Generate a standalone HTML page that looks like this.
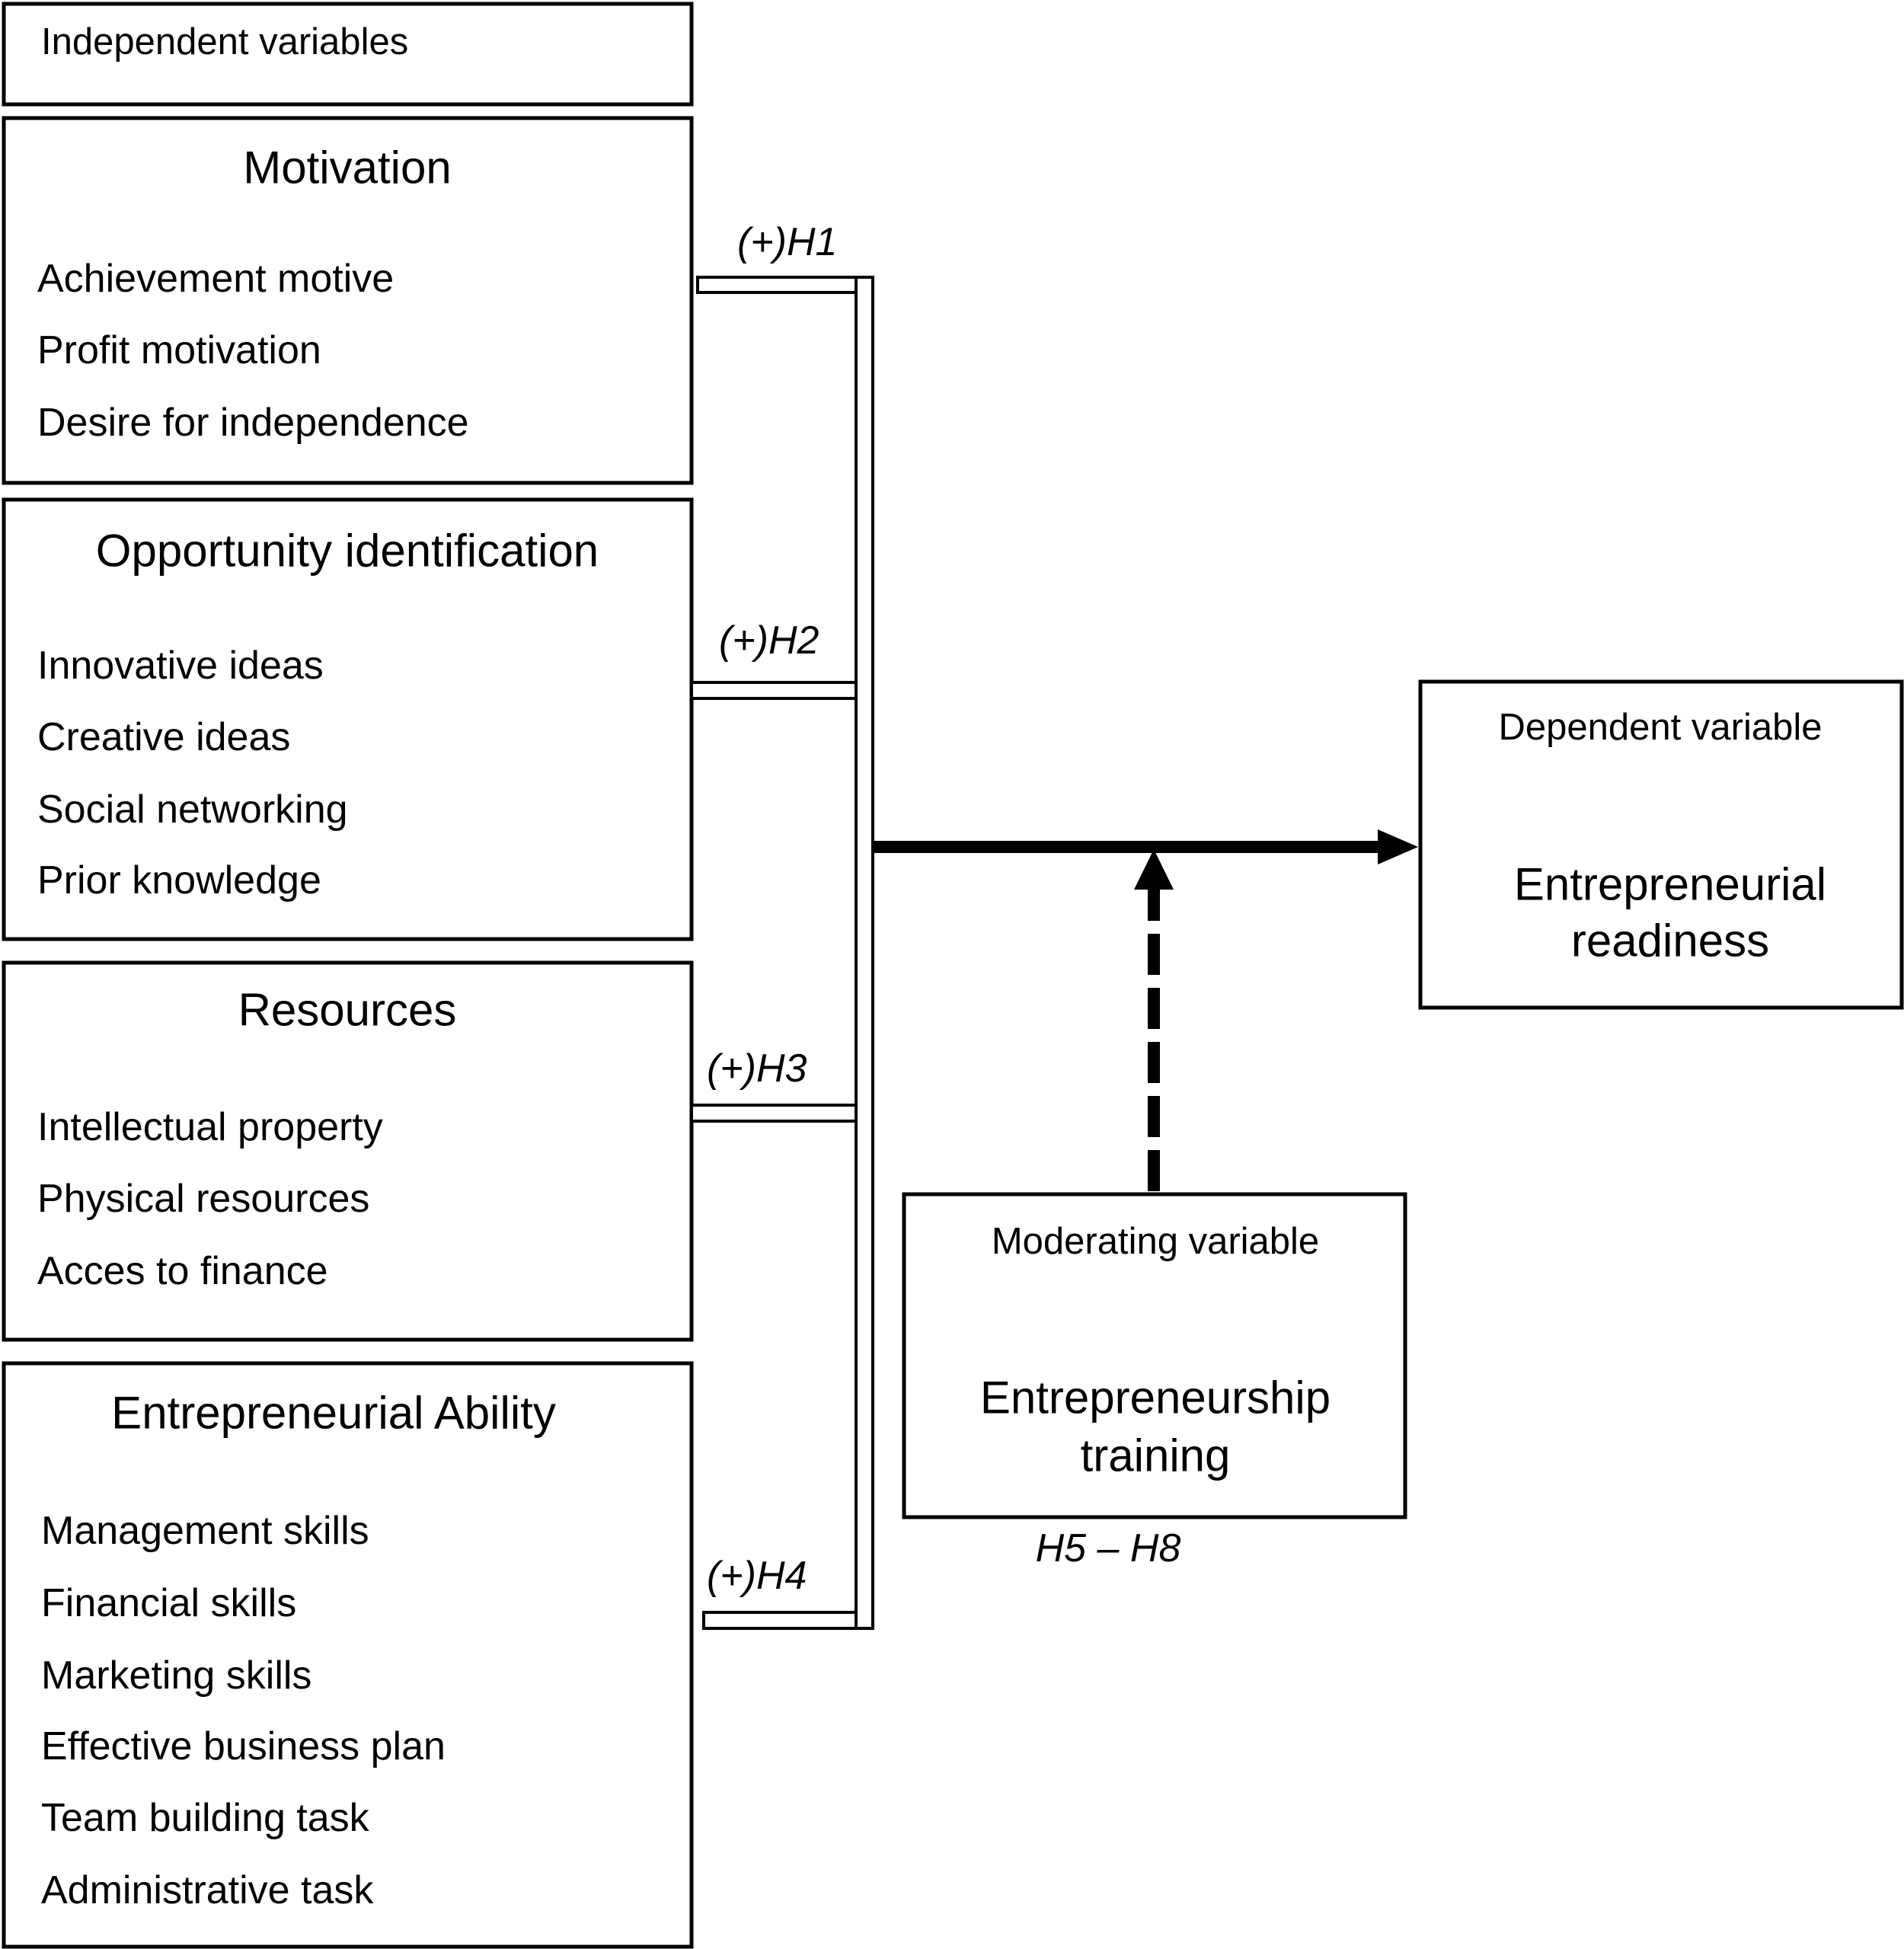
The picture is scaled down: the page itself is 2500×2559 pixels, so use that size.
<!DOCTYPE html>
<html><head><meta charset="utf-8"><style>
html,body{margin:0;padding:0;background:#fff;}
svg{display:block;}
text{font-family:"Liberation Sans",Arial,sans-serif;fill:#000;}
.t{font-size:49px;}
.h{font-size:60px;}
.i{font-size:52px;}
.l{font-size:52px;font-style:italic;}
</style></head><body>
<svg width="2500" height="2559" viewBox="0 0 2500 2559" xmlns="http://www.w3.org/2000/svg">
<g fill="none" stroke="#000" stroke-width="5">
<rect x="5" y="5" width="903" height="132"/>
<rect x="5" y="155" width="903" height="479"/>
<rect x="5" y="656" width="903" height="577"/>
<rect x="5" y="1264" width="903" height="495"/>
<rect x="5" y="1790" width="903" height="766"/>
<rect x="1865" y="895" width="632" height="428"/>
<rect x="1187" y="1568" width="658" height="424"/>
</g>
<g fill="#fff" stroke="#000" stroke-width="4">
<rect x="916" y="364" width="208" height="20"/>
<rect x="908" y="896" width="216" height="21"/>
<rect x="908" y="1451" width="216" height="21"/>
<rect x="924" y="2117" width="200" height="21"/>
<rect x="1124" y="364" width="22" height="1774"/>
</g>
<line x1="1148" y1="1112" x2="1815" y2="1112" stroke="#000" stroke-width="16"/>
<polygon points="1809,1089 1862,1112 1809,1135" fill="#000"/>
<line x1="1515" y1="1564" x2="1515" y2="1160" stroke="#000" stroke-width="16" stroke-dasharray="54 17"/>
<polygon points="1489,1168 1515,1115 1541,1168" fill="#000"/>
<text class="t" x="54" y="73" dominant-baseline="central" dy="-18">Independent variables</text>
<text class="h" x="456" y="220" text-anchor="middle" dominant-baseline="central">Motivation</text>
<text class="i" x="49" y="366" dominant-baseline="central">Achievement motive</text>
<text class="i" x="49" y="460" dominant-baseline="central">Profit motivation</text>
<text class="i" x="49" y="555" dominant-baseline="central">Desire for independence</text>
<text class="h" x="456" y="723" text-anchor="middle" dominant-baseline="central">Opportunity identification</text>
<text class="i" x="49" y="874" dominant-baseline="central">Innovative ideas</text>
<text class="i" x="49" y="968" dominant-baseline="central">Creative ideas</text>
<text class="i" x="49" y="1063" dominant-baseline="central">Social networking</text>
<text class="i" x="49" y="1156" dominant-baseline="central">Prior knowledge</text>
<text class="h" x="456" y="1326" text-anchor="middle" dominant-baseline="central">Resources</text>
<text class="i" x="49" y="1480" dominant-baseline="central">Intellectual property</text>
<text class="i" x="49" y="1574" dominant-baseline="central">Physical resources</text>
<text class="i" x="49" y="1669" dominant-baseline="central">Acces to finance</text>
<text class="h" x="438" y="1855" text-anchor="middle" dominant-baseline="central">Entrepreneurial Ability</text>
<text class="i" x="54" y="2010" dominant-baseline="central">Management skills</text>
<text class="i" x="54" y="2105" dominant-baseline="central">Financial skills</text>
<text class="i" x="54" y="2200" dominant-baseline="central">Marketing skills</text>
<text class="i" x="54" y="2293" dominant-baseline="central">Effective business plan</text>
<text class="i" x="54" y="2387" dominant-baseline="central">Team building task</text>
<text class="i" x="54" y="2482" dominant-baseline="central">Administrative task</text>
<text class="l" x="968" y="318" dominant-baseline="central">(+)H1</text>
<text class="l" x="944" y="841" dominant-baseline="central">(+)H2</text>
<text class="l" x="928" y="1403" dominant-baseline="central">(+)H3</text>
<text class="l" x="928" y="2069" dominant-baseline="central">(+)H4</text>
<text class="t" x="2180" y="955" text-anchor="middle" dominant-baseline="central">Dependent variable</text>
<text class="h" x="2193" y="1161" text-anchor="middle" dominant-baseline="central">Entrepreneurial</text>
<text class="h" x="2193" y="1235" text-anchor="middle" dominant-baseline="central">readiness</text>
<text class="t" x="1517" y="1630" text-anchor="middle" dominant-baseline="central">Moderating variable</text>
<text class="h" x="1517" y="1835" text-anchor="middle" dominant-baseline="central">Entrepreneurship</text>
<text class="h" x="1517" y="1911" text-anchor="middle" dominant-baseline="central">training</text>
<text class="l" x="1455" y="2033" text-anchor="middle" dominant-baseline="central">H5 – H8</text>
</svg>
</body></html>
